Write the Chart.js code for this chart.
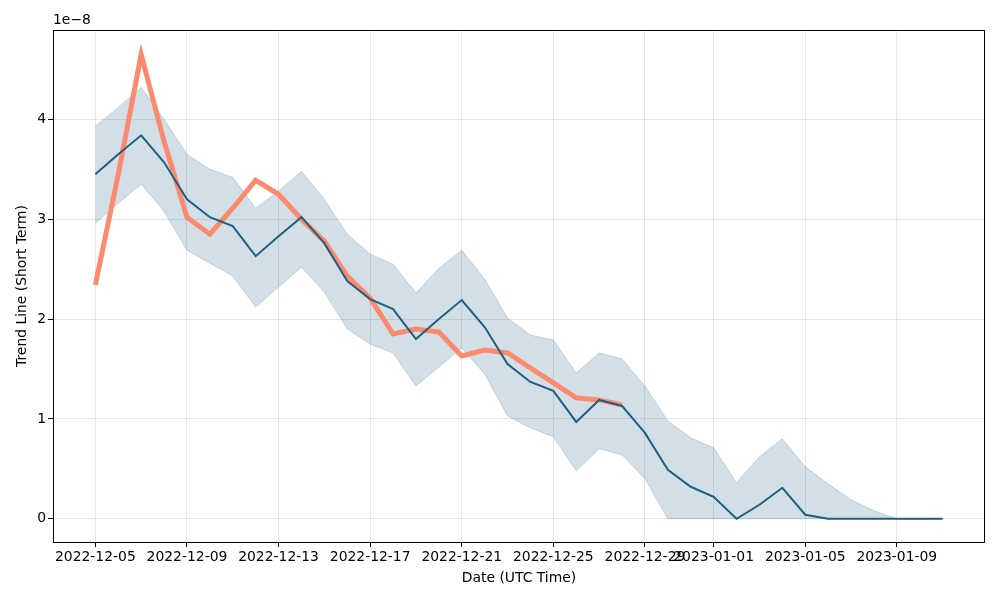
<!DOCTYPE html>
<html>
<head>
<meta charset="utf-8">
<script src="https://cdn.jsdelivr.net/npm/chart.js@4.4.1/dist/chart.umd.min.js"></script>
<style>
  html, body { margin: 0; padding: 0; background: #fff; }
  #wrap { width: 1000px; height: 600px; position: relative; }
</style>
</head>
<body>
<div id="wrap"><canvas id="trendChart"></canvas></div>
<script>
/* ── Data (values in units of 1e-8, one per day from startDate) ── */

var startDate = '2022-12-05';

var trendShort = [2.34, 3.45, 4.65, 3.78, 3.02, 2.85, 3.11, 3.39, 3.25, 3.00,
                  2.78, 2.43, 2.21, 1.85, 1.90, 1.87, 1.63, 1.69, 1.66, 1.51,
                  1.36, 1.21, 1.19, 1.14];

var meanLine = [3.45, 3.65, 3.84, 3.57, 3.20, 3.02, 2.93, 2.63, 2.83, 3.02,
                2.76, 2.38, 2.20, 2.10, 1.80, 2.00, 2.19, 1.92, 1.55, 1.37,
                1.28, 0.97, 1.19, 1.13, 0.86, 0.49, 0.32, 0.22, 0.00, 0.14,
                0.31, 0.04, 0.00, 0.00, 0.00, 0.00, 0.00, 0.00];

var bandUpper = [3.93, 4.12, 4.32, 4.00, 3.65, 3.50, 3.42, 3.11, 3.28, 3.48,
                 3.20, 2.85, 2.65, 2.55, 2.26, 2.51, 2.69, 2.40, 2.01, 1.84,
                 1.79, 1.46, 1.66, 1.60, 1.33, 0.98, 0.81, 0.71, 0.36, 0.62,
                 0.80, 0.52, 0.35, 0.19, 0.08, 0.00, 0.00, 0.00];

var bandLower = [2.96, 3.16, 3.35, 3.08, 2.69, 2.56, 2.43, 2.12, 2.32, 2.52,
                 2.27, 1.90, 1.75, 1.66, 1.33, 1.52, 1.71, 1.45, 1.03, 0.91,
                 0.82, 0.48, 0.70, 0.64, 0.40, 0.00, 0.00, 0.00, 0.00, 0.00,
                 0.00, 0.00, 0.00, 0.00, 0.00, 0.00, 0.00, 0.00];

var xTickLabels = ['2022-12-05', '2022-12-09', '2022-12-13', '2022-12-17', '2022-12-21',
                   '2022-12-25', '2022-12-29', '2023-01-01', '2023-01-05', '2023-01-09'];

var yTickValues = [0, 1, 2, 3, 4];

/* ── Helpers ───────────────────────────────────────────── */

function dayOffset(d) {
  return Math.round((Date.parse(d) - Date.parse(startDate)) / 86400000);
}

function toPoints(arr) {
  return arr.map(function (v, i) { return { x: i, y: v }; });
}

var xTickPos = xTickLabels.map(dayOffset);
var lastDay = meanLine.length - 1;
var xMargin = lastDay * 0.05;

/* ── Plot frame + offset text ──────────────────────────── */

var framePlugin = {
  id: 'frame',
  afterDraw: function (chart) {
    var a = chart.chartArea, ctx = chart.ctx;
    ctx.save();
    ctx.strokeStyle = '#000';
    ctx.lineWidth = 1;
    ctx.strokeRect(Math.round(a.left) + 0.5, Math.round(a.top) + 0.5,
                   Math.round(a.right - a.left) - 1, Math.round(a.bottom - a.top));
    ctx.fillStyle = '#000';
    ctx.font = '13.9px "DejaVu Sans"';
    ctx.textAlign = 'left';
    ctx.textBaseline = 'bottom';
    ctx.fillText('1e\u22128', a.left, a.top - 3);
    ctx.restore();
  }
};

var font = { family: '"DejaVu Sans"', size: 13.9 };
var gridColor = 'rgba(176, 176, 176, 0.32)';

new Chart(document.getElementById('trendChart'), {
  type: 'line',
  data: {
    datasets: [
      {
        label: 'Mean',
        data: toPoints(meanLine),
        borderColor: '#1f5f80',
        borderWidth: 2,
        pointRadius: 0,
        tension: 0,
        fill: false
      },
      {
        label: 'Trend Line (Short Term)',
        data: toPoints(trendShort),
        borderColor: '#fc8a6f',
        borderWidth: 5,
        pointRadius: 0,
        tension: 0,
        fill: false
      },
      {
        label: 'Upper',
        data: toPoints(bandUpper),
        borderColor: 'rgba(31, 95, 128, 0.2)',
        backgroundColor: 'rgba(31, 95, 128, 0.2)',
        borderWidth: 1,
        pointRadius: 0,
        tension: 0,
        fill: '+1'
      },
      {
        label: 'Lower',
        data: toPoints(bandLower),
        borderColor: 'rgba(31, 95, 128, 0.2)',
        borderWidth: 1,
        pointRadius: 0,
        tension: 0,
        fill: false
      }
    ]
  },
  options: {
    responsive: true,
    maintainAspectRatio: false,
    animation: false,
    layout: { padding: { top: 30, right: 15, left: 0, bottom: 0 } },
    plugins: { legend: { display: false }, tooltip: { enabled: false } },
    scales: {
      x: {
        type: 'linear',
        min: -xMargin,
        max: lastDay + xMargin,
        afterFit: function (s) { s.height = 58; },
        afterBuildTicks: function (s) {
          s.ticks = xTickPos.map(function (v) { return { value: v }; });
        },
        grid: { color: gridColor, tickColor: '#000', tickLength: 5 },
        border: { display: false },
        ticks: {
          color: '#000', font: font, padding: 2,
          autoSkip: false, maxRotation: 0,
          callback: function (v) { return xTickLabels[xTickPos.indexOf(v)]; }
        },
        title: {
          display: true, text: 'Date (UTC Time)', color: '#000', font: font,
          padding: { top: 4, bottom: 13 }
        }
      },
      y: {
        min: -0.233,
        max: 4.895,
        afterFit: function (s) { s.width = 53; },
        afterBuildTicks: function (s) {
          s.ticks = yTickValues.map(function (v) { return { value: v }; });
        },
        grid: { color: gridColor, tickColor: '#000', tickLength: 5 },
        border: { display: false },
        ticks: { color: '#000', font: font, padding: 2 },
        title: {
          display: true, text: 'Trend Line (Short Term)', color: '#000', font: font,
          padding: { top: 14, bottom: 0 }
        }
      }
    }
  },
  plugins: [framePlugin]
});
</script>
</body>
</html>
